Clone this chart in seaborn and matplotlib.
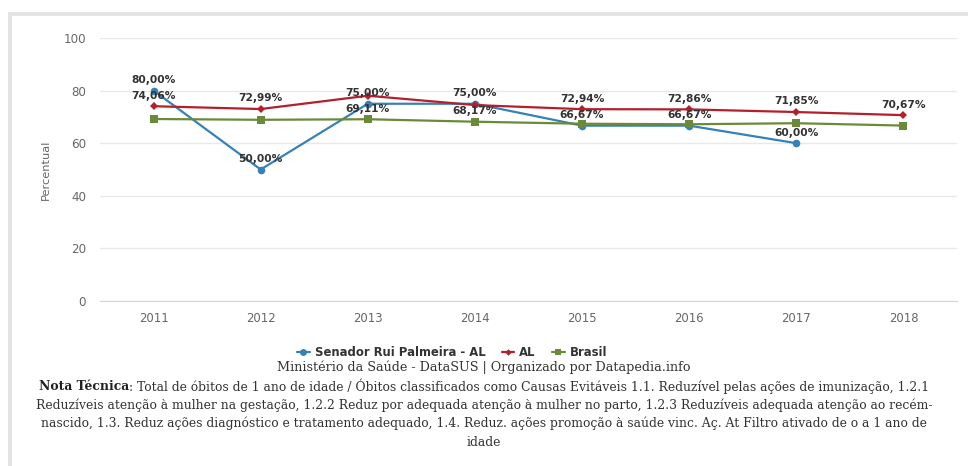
import numpy as np
import pandas as pd
import matplotlib
matplotlib.use("Agg")
import matplotlib.pyplot as plt
import seaborn as sns
from matplotlib.lines import Line2D
from matplotlib.patches import Rectangle

# ---------------- data ----------------
years = ["2011", "2012", "2013", "2014", "2015", "2016", "2017", "2018"]
series_names = ["Senador Rui Palmeira - AL", "AL", "Brasil"]
senador = [80.00, 50.00, 75.00, 75.00, 66.67, 66.67, 60.00, np.nan]
al = [74.06, 72.99, 78.05, 74.50, 72.94, 72.86, 71.85, 70.67]
brasil = [69.20, 68.90, 69.11, 68.17, 67.40, 67.20, 67.60, 66.70]
# which data labels are visible in the original (overlapping ones hidden)
senador_show = [True, True, True, True, True, True, True, False]
al_show = [True, True, False, False, True, True, True, True]
brasil_show = [False, False, True, True, False, False, False, False]
yticks = [0, 20, 40, 60, 80, 100]
y_label = "Percentual"
source_text = "Ministério da Saúde - DataSUS | Organizado por Datapedia.info"
note_bold = "Nota Técnica"
note_lines = [
    ": Total de óbitos de 1 ano de idade / Óbitos classificados como Causas Evitáveis 1.1. Reduzível pelas ações de imunização, 1.2.1",
    "Reduzíveis atenção à mulher na gestação, 1.2.2 Reduz por adequada atenção à mulher no parto, 1.2.3 Reduzíveis adequada atenção ao recém-",
    "nascido, 1.3. Reduz ações diagnóstico e tratamento adequado, 1.4. Reduz. ações promoção à saúde vinc. Aç. At Filtro ativado de o a 1 ano de",
    "idade",
]

colors = {"Senador Rui Palmeira - AL": "#3682b8", "AL": "#b3202c", "Brasil": "#6a8a3a"}
markers = {"Senador Rui Palmeira - AL": "o", "AL": "D", "Brasil": "s"}
msizes = {"Senador Rui Palmeira - AL": 5.5, "AL": 3.8, "Brasil": 5.5}

# long-form table
rows = []
for name, vals in zip(series_names, [senador, al, brasil]):
    for i, (y, v) in enumerate(zip(years, vals)):
        rows.append({"pos": i, "ano": y, "serie": name, "valor": v})
df = pd.DataFrame(rows)

# ---------------- figure ----------------
sns.set_style("white")
plt.rcParams["font.family"] = ["DejaVu Sans"]

W, H = 968, 466
fig = plt.figure(figsize=(W / 100, H / 100), dpi=100)
fig.patch.set_facecolor("white")

def fx(px):
    return px / W

def fy(py):
    return 1 - py / H

# frame bands (light grey)
fig.add_artist(Rectangle((fx(8), fy(16)), fx(968 - 8), 4 / H, transform=fig.transFigure,
                         facecolor="#e4e4e4", edgecolor="none"))
fig.add_artist(Rectangle((fx(8), 0), fx(4), fy(12), transform=fig.transFigure,
                         facecolor="#e4e4e4", edgecolor="none"))

ax = fig.add_axes([fx(100), fy(301), fx(957 - 100), (301 - 38) / H])

for name in series_names:
    sub = df[df["serie"] == name]
    sns.lineplot(data=sub, x="pos", y="valor", ax=ax, color=colors[name],
                 marker=markers[name], markersize=msizes[name], markeredgewidth=0,
                 linewidth=1.6, legend=False, zorder=3)

ax.set_xlim(-0.5, len(years) - 0.5)
ax.set_ylim(0, 100)
ax.set_yticks(yticks)
ax.set_yticklabels([str(t) for t in yticks], color="#666666", fontsize=8.6)
ax.set_xticks(range(len(years)))
ax.set_xticklabels(years, color="#666666", fontsize=8.4)
ax.set_xticks(np.arange(-0.5, len(years), 1.0), minor=True)
ax.tick_params(axis="x", which="major", length=0, pad=8)
ax.tick_params(axis="x", which="minor", length=5, color="#ccd6eb", width=1)
ax.tick_params(axis="y", length=0, pad=10)
ax.grid(axis="y", color="#e9e9e9", linewidth=1)
ax.set_axisbelow(True)
for s in ["top", "right", "left"]:
    ax.spines[s].set_visible(False)
ax.spines["bottom"].set_color("#ccd6eb")
ax.set_xlabel("")
ax.set_ylabel(y_label, color="#666666", fontsize=8.2, labelpad=9)

# data labels
for name, vals, show in zip(series_names, [senador, al, brasil],
                            [senador_show, al_show, brasil_show]):
    for i, (v, s) in enumerate(zip(vals, show)):
        if s and not np.isnan(v):
            lbl = f"{v:.2f}".replace(".", ",") + "%"
            ax.annotate(lbl, (i, v), xytext=(0, 4), textcoords="offset points",
                        ha="center", va="bottom", fontsize=7.7, fontweight="bold",
                        color="#333333", zorder=5)

# legend
handles = [Line2D([0], [0], color=colors[n], marker=markers[n], markersize=msizes[n] - 0.5,
                  markeredgewidth=0, linewidth=1.6) for n in series_names]
leg = fig.legend(handles, series_names, loc="center", bbox_to_anchor=(fx(452), fy(353)),
                 ncol=3, frameon=False, handlelength=1.1, handletextpad=0.4,
                 columnspacing=1.4, prop={"weight": "bold", "size": 8.4})
for t in leg.get_texts():
    t.set_color("#333333")

# footer
serif = ["DejaVu Serif"]
fs_foot = 8.9
fig.text(0.5, fy(367), source_text, ha="center", va="center", fontsize=fs_foot + 0.3,
         family=serif, color="#333333")

fig.canvas.draw()
renderer = fig.canvas.get_renderer()
line_y = [386, 405, 423, 442]
# first line: bold prefix + normal rest, centered together
tb = fig.text(0, fy(line_y[0]), note_bold, ha="left", va="center", fontsize=fs_foot,
              family=serif, fontweight="bold", color="#222222")
tr = fig.text(0, fy(line_y[0]), note_lines[0], ha="left", va="center", fontsize=fs_foot,
              family=serif, color="#333333")
wb = tb.get_window_extent(renderer).width
wr = tr.get_window_extent(renderer).width
x0 = (W - (wb + wr)) / 2
tb.set_x(fx(x0))
tr.set_x(fx(x0 + wb))
for yy, txt in zip(line_y[1:], note_lines[1:]):
    fig.text(0.5, fy(yy), txt, ha="center", va="center", fontsize=fs_foot,
             family=serif, color="#333333")

fig.savefig("out.png", dpi=100, facecolor="white")
